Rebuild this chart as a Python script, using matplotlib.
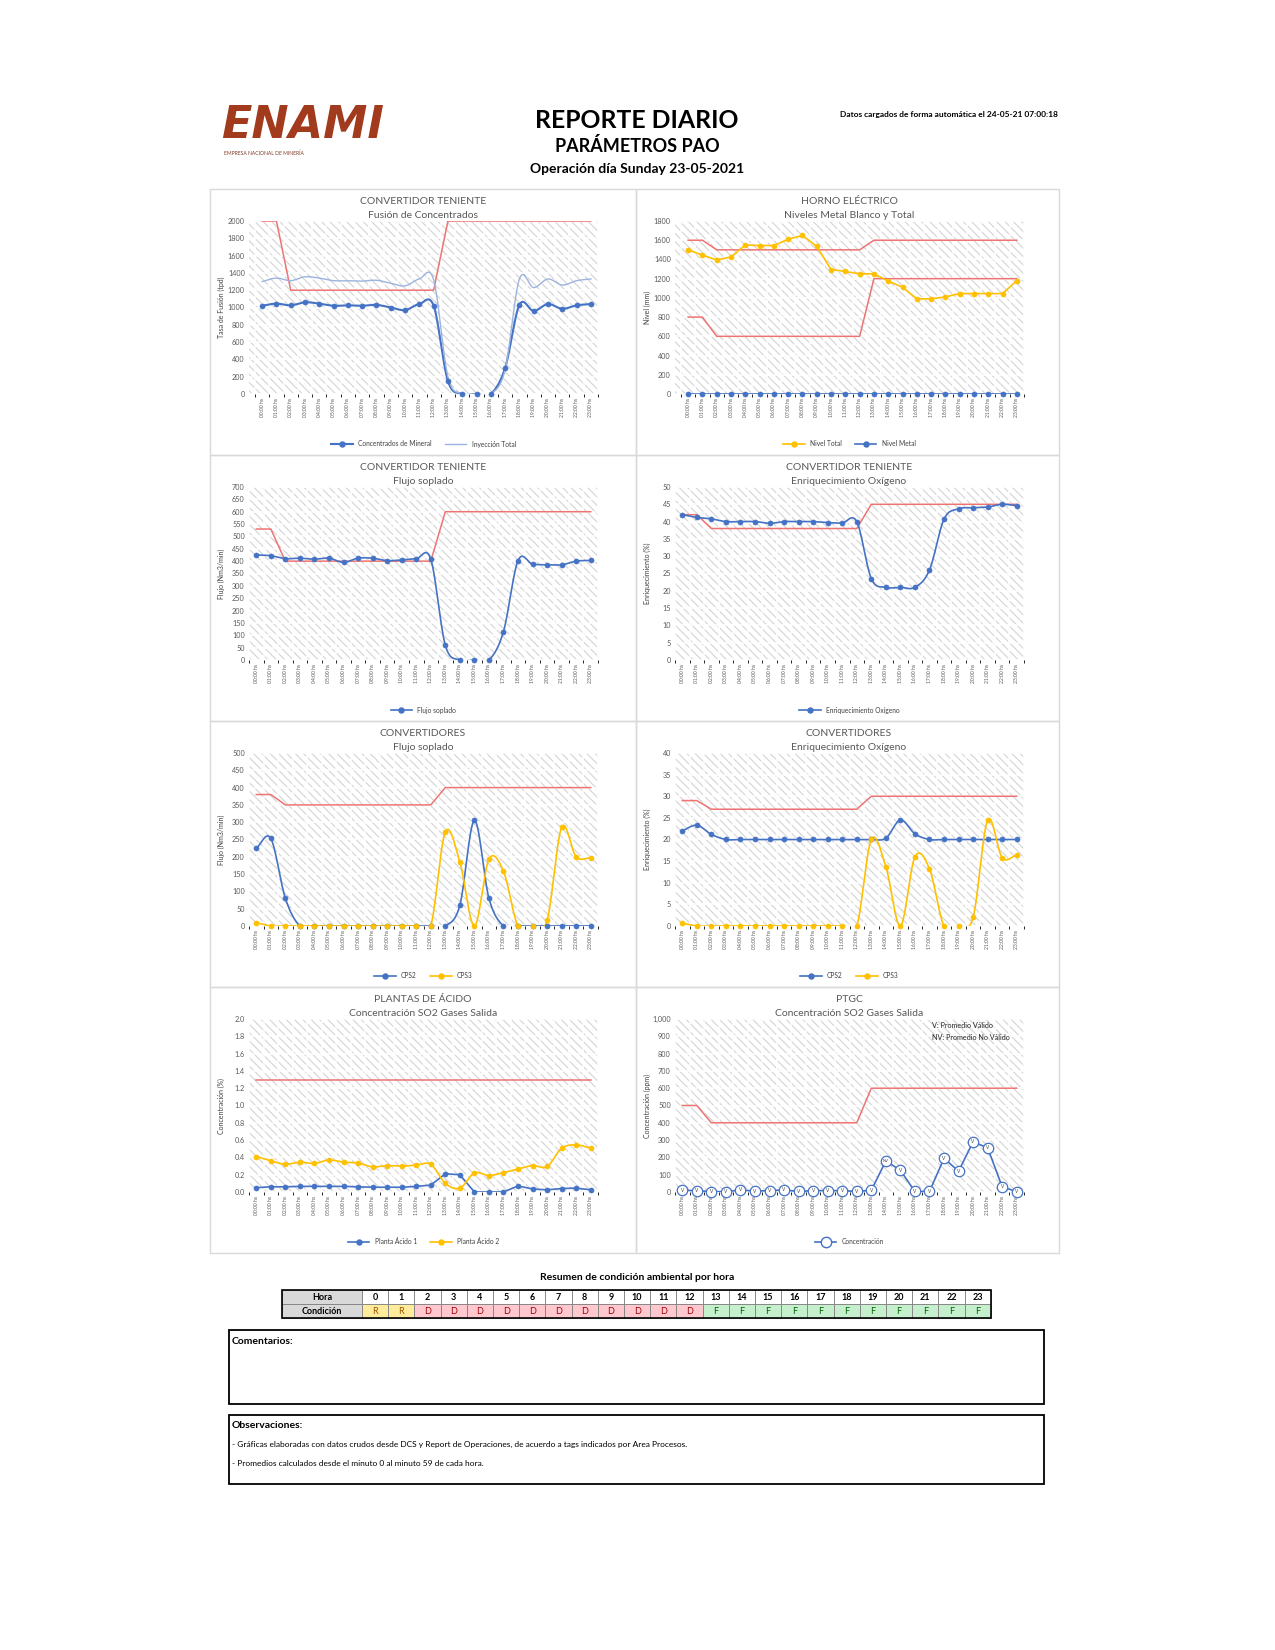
import numpy as np
import matplotlib
matplotlib.use('Agg')
import matplotlib.pyplot as plt
from matplotlib.patches import Rectangle
from matplotlib.ticker import FuncFormatter, MultipleLocator
from matplotlib.lines import Line2D

plt.rcParams['font.family'] = ['Lato', 'DejaVu Sans']
plt.rcParams['hatch.linewidth'] = 0.8

W, H = 1275, 1650

hours = list(range(24))
hour_labels = ['%02d:00 hs' % h for h in hours]

# --- Convertidor Teniente: fusion de concentrados
conc_mineral = [1020, 1045, 1025, 1060, 1045, 1020, 1025, 1020, 1030, 1000, 970, 1040,
                1020, 150, 0, 0, 0, 300, 1030, 960, 1040, 985, 1025, 1040]
inyeccion_total = [1300, 1340, 1310, 1355, 1340, 1310, 1310, 1305, 1315, 1280, 1250, 1330,
                   1320, 200, 0, 0, 0, 280, 1330, 1230, 1330, 1260, 1310, 1330]
fusion_lim = [2000, 2000, 1200, 1200, 1200, 1200, 1200, 1200, 1200, 1200, 1200, 1200,
              1200, 2000, 2000, 2000, 2000, 2000, 2000, 2000, 2000, 2000, 2000, 2000]

# --- Horno electrico
nivel_total = [1500, 1445, 1395, 1425, 1550, 1545, 1545, 1610, 1650, 1535, 1295, 1275,
               1250, 1250, 1175, 1110, 990, 990, 1010, 1045, 1045, 1045, 1045, 1180]
nivel_metal = [0, 0, 0, 0, 0, 0, 0, 0, 0, 0, 0, 0, 0, 0, 0, 0, 0, 0, 0, 0, 0, 0, 0, 0]
nivel_lim_sup = [1600, 1600, 1500, 1500, 1500, 1500, 1500, 1500, 1500, 1500, 1500, 1500,
                 1500, 1600, 1600, 1600, 1600, 1600, 1600, 1600, 1600, 1600, 1600, 1600]
nivel_lim_inf = [800, 800, 600, 600, 600, 600, 600, 600, 600, 600, 600, 600,
                 600, 1200, 1200, 1200, 1200, 1200, 1200, 1200, 1200, 1200, 1200, 1200]

# --- Convertidor Teniente: flujo soplado
ct_flujo = [425, 422, 410, 412, 408, 412, 395, 412, 412, 402, 405, 410,
            408, 60, 0, 0, 0, 115, 402, 388, 385, 385, 400, 403]
ct_flujo_lim = [530, 530, 400, 400, 400, 400, 400, 400, 400, 400, 400, 400,
                400, 600, 600, 600, 600, 600, 600, 600, 600, 600, 600, 600]

# --- Convertidor Teniente: enriquecimiento
ct_enriq = [42, 41.2, 40.8, 40, 40, 40, 39.5, 40, 40, 40, 39.7, 39.6,
            40, 23.5, 21, 21, 21, 26, 40.7, 43.7, 44, 44.2, 45, 44.6]
ct_enriq_lim = [42, 42, 38, 38, 38, 38, 38, 38, 38, 38, 38, 38,
                38, 45, 45, 45, 45, 45, 45, 45, 45, 45, 45, 45]

# --- Convertidores: flujo soplado
cps2_flujo = [225, 253, 80, 0, 0, 0, 0, 0, 0, 0, 0, 0,
              0, 0, 60, 305, 80, 0, 0, 0, 0, 0, 0, 0]
cps3_flujo = [10, 0, 0, 0, 0, 0, 0, 0, 0, 0, 0, 0,
              0, 272, 185, 0, 193, 158, 0, 0, 17, 285, 200, 197]
cps_flujo_lim = [380, 380, 350, 350, 350, 350, 350, 350, 350, 350, 350, 350,
                 350, 400, 400, 400, 400, 400, 400, 400, 400, 400, 400, 400]

# --- Convertidores: enriquecimiento
cps2_enriq = [22, 23.3, 21.2, 20, 20, 20, 20, 20, 20, 20, 20, 20,
              20, 20, 20.3, 24.5, 21.3, 20, 20, 20, 20, 20, 20, 20]
cps3_enriq = [0.7, 0, 0, 0, 0, 0, 0, 0, 0, 0, 0, 0,
              0, 20, 13.7, 0, 16, 13.2, 0, 0, 2, 24.5, 15.8, 16.4]
cps_enriq_lim = [29, 29, 27, 27, 27, 27, 27, 27, 27, 27, 27, 27,
                 27, 30, 30, 30, 30, 30, 30, 30, 30, 30, 30, 30]

# --- Plantas de acido
acido1 = [0.05, 0.06, 0.06, 0.065, 0.065, 0.065, 0.065, 0.06, 0.055, 0.055, 0.055, 0.065,
          0.08, 0.21, 0.20, 0.0, 0.0, 0.0, 0.07, 0.035, 0.025, 0.04, 0.045, 0.025]
acido2 = [0.41, 0.36, 0.32, 0.345, 0.33, 0.37, 0.345, 0.335, 0.29, 0.305, 0.30, 0.31,
          0.32, 0.10, 0.045, 0.22, 0.19, 0.225, 0.265, 0.305, 0.295, 0.505, 0.545, 0.505]
acido_lim = [1.3, 1.3, 1.3, 1.3, 1.3, 1.3, 1.3, 1.3, 1.3, 1.3, 1.3, 1.3,
             1.3, 1.3, 1.3, 1.3, 1.3, 1.3, 1.3, 1.3, 1.3, 1.3, 1.3, 1.3]

# --- PTGC
ptgc_conc = [10, 8, 2, 2, 12, 5, 8, 12, 3, 8, 8, 8,
             3, 10, 180, 125, 3, 3, 195, 120, 290, 255, 30, 2]
ptgc_flag = ['V', 'V', 'V', 'V', 'V', 'V', 'V', 'V', 'V', 'V', 'V', 'V',
             'V', 'V', 'NV', 'V', 'V', 'V', 'V', 'V', 'V', 'V', 'V', 'V']
ptgc_lim = [500, 500, 400, 400, 400, 400, 400, 400, 400, 400, 400, 400,
            400, 600, 600, 600, 600, 600, 600, 600, 600, 600, 600, 600]

# --- Resumen condicion ambiental
cond_hours = ['0', '1', '2', '3', '4', '5', '6', '7', '8', '9', '10', '11',
              '12', '13', '14', '15', '16', '17', '18', '19', '20', '21', '22', '23']
condicion = ['R', 'R', 'D', 'D', 'D', 'D', 'D', 'D', 'D', 'D', 'D', 'D',
             'D', 'F', 'F', 'F', 'F', 'F', 'F', 'F', 'F', 'F', 'F', 'F']

BLUE = '#4472C4'
YELLOW = '#FFC000'
LBLUE = '#9DB3DF'
RED = '#EE7373'
GRAY = '#595959'


def smooth(y, n=16):
    y = np.asarray(y, dtype=float)
    p = np.concatenate([[2 * y[0] - y[1]], y, [2 * y[-1] - y[-2]]])
    t = np.linspace(0, 1, n)
    xs, ys = [], []
    for i in range(len(y) - 1):
        p0, p1, p2, p3 = p[i], p[i + 1], p[i + 2], p[i + 3]
        b1 = p1 + (p2 - p0) / 6.0
        b2 = p2 - (p3 - p1) / 6.0
        seg = ((1 - t) ** 3) * p1 + 3 * ((1 - t) ** 2) * t * b1 + 3 * (1 - t) * t ** 2 * b2 + t ** 3 * p2
        xs.append(i + t)
        ys.append(seg)
    return np.concatenate(xs), np.concatenate(ys)


fig = plt.figure(figsize=(W / 100, H / 100), dpi=100)
page = fig.add_axes([0, 0, 1, 1], zorder=-5)
page.set_xlim(0, W)
page.set_ylim(H, 0)
page.axis('off')


def px_axes(x0, y0, x1, y1):
    return fig.add_axes([x0 / W, 1 - y1 / H, (x1 - x0) / W, (y1 - y0) / H])


col_x = [210, 636]
col_w = [426, 423]
row_y = [189, 455, 721, 987]
row_h = 266


def chart(col, row, title1, title2, ymax, ystep, ylabel, series, limits, fmt,
          xlim=(-0.5, 23.5)):
    cx, cy = col_x[col], row_y[row]
    page.add_patch(Rectangle((cx, cy), col_w[col], row_h, fill=False,
                             edgecolor='#D9D9D9', lw=1.0))
    page.text(cx + 213, cy + 12, title1, ha='center', va='center', fontsize=7.5, color=GRAY)
    page.text(cx + 213, cy + 27, title2, ha='center', va='center', fontsize=7.5, color=GRAY)

    ax = px_axes(cx + 39, cy + 32, cx + 388, cy + 205)
    # patterned plot area, like the Excel fill
    ax.add_patch(Rectangle((0, 0), 1, 1, transform=ax.transAxes, facecolor='white',
                           edgecolor='#D4D4D4', hatch='\\\\\\\\', lw=0, zorder=0))
    ax.set_xlim(*xlim)
    ax.set_ylim(0, ymax)
    ax.yaxis.set_major_locator(MultipleLocator(ystep))
    ax.yaxis.set_major_formatter(FuncFormatter(fmt))
    ax.set_xticks(hours)
    ax.set_xticklabels(hour_labels, rotation=90, fontsize=3.6, color=GRAY)
    ax.set_xticks(np.arange(-0.5, 24, 1), minor=True)
    ax.tick_params(axis='both', length=0, pad=3, labelsize=5.2, labelcolor=GRAY)
    ax.tick_params(axis='x', labelsize=3.6)
    ax.set_axisbelow(True)
    ax.grid(True, axis='y', which='major', color='white', lw=1.1)
    ax.grid(True, axis='x', which='minor', color='white', lw=1.1)
    for s in ax.spines.values():
        s.set_visible(False)
    ax.set_ylabel(ylabel, fontsize=5, color='#404040')
    ax.yaxis.set_label_coords(-24 / 349, 0.5)

    for lim in limits:
        ax.plot(hours, lim, color=RED, lw=1.1, zorder=2)

    handles = []
    for s in series:
        y = s['y']
        if s.get('smooth', True):
            xs, ys = smooth(y)
        else:
            xs, ys = hours, y
        ax.plot(xs, ys, color=s['color'], lw=s.get('lw', 1.2), zorder=3)
        mk = s.get('marker', 'o')
        if mk:
            ax.plot(hours, y, ls='none', marker=mk, ms=s.get('ms', 3.6),
                    color=s['color'], mfc=s.get('mfc', s['color']),
                    mew=s.get('mew', 0.5), zorder=4, clip_on=False)
        handles.append(Line2D([0], [0], color=s['color'], lw=s.get('lw', 1.2),
                              marker=mk if mk else None, ms=s.get('ms', 3.6),
                              mfc=s.get('mfc', s['color'])))
    ax.legend(handles, [s['label'] for s in series], loc='center',
              bbox_to_anchor=(0.5, -50 / 173), ncol=len(series), frameon=False,
              fontsize=4.8, handlelength=3.2, columnspacing=2.0,
              labelcolor='#404040')
    return ax


int_fmt = lambda v, p: '%d' % v

chart(0, 0, 'CONVERTIDOR TENIENTE', 'Fusión de Concentrados', 2000, 200, 'Tasa de Fusión (tpd)',
      [dict(y=conc_mineral, color=BLUE, label='Concentrados de Mineral', lw=1.5),
       dict(y=inyeccion_total, color=LBLUE, label='Inyección Total', marker=None, lw=1.0)],
      [fusion_lim], int_fmt, xlim=(-0.92, 23.47))

chart(1, 0, 'HORNO ELÉCTRICO', 'Niveles Metal Blanco y Total', 1800, 200, 'Nivel (mm)',
      [dict(y=nivel_total, color=YELLOW, label='Nivel Total', smooth=False),
       dict(y=nivel_metal, color=BLUE, label='Nivel Metal', smooth=False)],
      [nivel_lim_sup, nivel_lim_inf], int_fmt, xlim=(-0.92, 23.47))

chart(0, 1, 'CONVERTIDOR TENIENTE', 'Flujo soplado', 700, 50, 'Flujo (Nm3/min)',
      [dict(y=ct_flujo, color=BLUE, label='Flujo soplado')],
      [ct_flujo_lim], int_fmt)

chart(1, 1, 'CONVERTIDOR TENIENTE', 'Enriquecimiento Oxígeno', 50, 5, 'Enriquecimiento (%)',
      [dict(y=ct_enriq, color=BLUE, label='Enriquecimiento Oxígeno')],
      [ct_enriq_lim], int_fmt)

chart(0, 2, 'CONVERTIDORES', 'Flujo soplado', 500, 50, 'Flujo (Nm3/min)',
      [dict(y=cps2_flujo, color=BLUE, label='CPS2'),
       dict(y=cps3_flujo, color=YELLOW, label='CPS3')],
      [cps_flujo_lim], int_fmt)

chart(1, 2, 'CONVERTIDORES', 'Enriquecimiento Oxígeno', 40, 5, 'Enriquecimiento (%)',
      [dict(y=cps2_enriq, color=BLUE, label='CPS2'),
       dict(y=cps3_enriq, color=YELLOW, label='CPS3')],
      [cps_enriq_lim], int_fmt)

chart(0, 3, 'PLANTAS DE ÁCIDO', 'Concentración SO2 Gases Salida', 2.0, 0.2, 'Concentración (%)',
      [dict(y=acido1, color=BLUE, label='Planta Ácido 1', smooth=False),
       dict(y=acido2, color=YELLOW, label='Planta Ácido 2')],
      [acido_lim], lambda v, p: '%.1f' % v)

ax_p = chart(1, 3, 'PTGC', 'Concentración SO2 Gases Salida', 1000, 100, 'Concentración (ppm)',
             [dict(y=ptgc_conc, color=BLUE, label='Concentración', smooth=False,
                   mfc='white', ms=7.5, mew=0.9)],
             [ptgc_lim], lambda v, p: '{:,.0f}'.format(v))
for h, v, f in zip(hours, ptgc_conc, ptgc_flag):
    ax_p.text(h, v, f, ha='center', va='center', fontsize=3.4 if f == 'V' else 3.0,
              color='#404040', zorder=5, clip_on=False)
ax_p.text(0.735, 0.965, 'V: Promedio Válido', transform=ax_p.transAxes, fontsize=5.2,
          color='#262626', va='center')
ax_p.text(0.735, 0.895, 'NV: Promedio No Válido', transform=ax_p.transAxes, fontsize=5.2,
          color='#262626', va='center')

# --- header
page.text(221, 138, 'ENAMI', fontsize=32, fontweight='bold', fontstyle='italic',
          color='#A23B1E', va='baseline', ha='left', family='DejaVu Sans')
page.text(224, 153, 'EMPRESA NACIONAL DE MINERÍA', fontsize=3.6, color='#7A3A2A',
          va='center', ha='left')
page.text(637, 120, 'REPORTE DIARIO', fontsize=17.8, fontweight='bold', ha='center', va='center')
page.text(637, 146, 'PARÁMETROS PAO', fontsize=13, fontweight='bold', ha='center', va='center')
page.text(637, 169, 'Operación día Sunday 23-05-2021', fontsize=10, fontweight='bold',
          ha='center', va='center')
page.text(1058, 114, 'Datos cargados de forma automática el 24-05-21 07:00:18', fontsize=6,
          fontweight='bold', ha='right', va='center')

# --- resumen table
page.text(637, 1278, 'Resumen de condición ambiental por hora', fontsize=7.5,
          fontweight='bold', ha='center', va='center')
tx0, tx1, cw = 282, 362, 26.2
ty0, rh = 1290, 14
fills = {'R': ('#FFEB9C', '#9C5700'), 'D': ('#FFC7CE', '#9C0006'), 'F': ('#C6EFCE', '#006100')}
page.add_patch(Rectangle((tx0, ty0), tx1 - tx0, rh, facecolor='#D9D9D9', edgecolor='#808080', lw=0.6))
page.add_patch(Rectangle((tx0, ty0 + rh), tx1 - tx0, rh, facecolor='#D9D9D9', edgecolor='#808080', lw=0.6))
page.text((tx0 + tx1) / 2, ty0 + rh / 2, 'Hora', fontsize=6.5, fontweight='bold', ha='center', va='center')
page.text((tx0 + tx1) / 2, ty0 + 1.5 * rh, 'Condición', fontsize=6.5, fontweight='bold', ha='center', va='center')
for i, (hl, c) in enumerate(zip(cond_hours, condicion)):
    x = tx1 + i * cw
    page.add_patch(Rectangle((x, ty0), cw, rh, facecolor='white', edgecolor='#808080', lw=0.6))
    page.text(x + cw / 2, ty0 + rh / 2, hl, fontsize=6.5, fontweight='bold', ha='center', va='center')
    fc, tc = fills[c]
    page.add_patch(Rectangle((x, ty0 + rh), cw, rh, facecolor=fc, edgecolor='#808080', lw=0.6))
    page.text(x + cw / 2, ty0 + 1.5 * rh, c, fontsize=6.5, color=tc, ha='center', va='center')
page.add_patch(Rectangle((tx0, ty0), tx1 + 24 * cw - tx0, 2 * rh, fill=False, edgecolor='black', lw=1.2))

# --- comentarios / observaciones
page.add_patch(Rectangle((229, 1330), 815, 74, fill=False, edgecolor='black', lw=1.3))
page.text(232, 1341, 'Comentarios:', fontsize=7.5, fontweight='bold', va='center')
page.add_patch(Rectangle((229, 1415), 815, 69, fill=False, edgecolor='black', lw=1.3))
page.text(232, 1425, 'Observaciones:', fontsize=7.5, fontweight='bold', va='center')
page.text(232, 1444, '- Gráficas elaboradas con datos crudos desde DCS y Report de Operaciones, '
          'de acuerdo a tags indicados por Area Procesos.', fontsize=6, va='center')
page.text(232, 1463, '- Promedios calculados desde el minuto 0 al minuto 59 de cada hora.',
          fontsize=6, va='center')

fig.savefig('out.png', dpi=100, facecolor='white')
